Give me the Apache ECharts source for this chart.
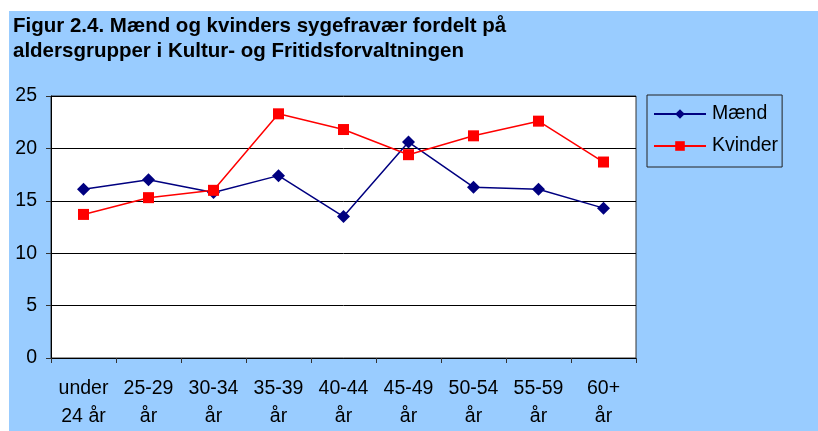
<!DOCTYPE html>
<html>
<head>
<meta charset="utf-8">
<script src="https://cdn.jsdelivr.net/npm/echarts@6/dist/echarts.min.js"></script>
<style>
  html, body { margin: 0; padding: 0; background: #fff; }
  #chart { width: 818px; height: 431px; }
</style>
</head>
<body>
<div id="chart"></div>
<script>
// age groups (two-line labels)
const categories = ['under\n24 år', '25-29\når', '30-34\når', '35-39\når', '40-44\når',
  '45-49\når', '50-54\når', '55-59\når', '60+\når']
const maend = [16.1, 17.0, 15.8, 17.4, 13.5, 20.6, 16.3, 16.1, 14.3]
const kvinder = [13.7, 15.3, 16.0, 23.3, 21.8, 19.4, 21.2, 22.6, 18.7]
const yTicks = [0, 5, 10, 15, 20, 25]

const font = 'Liberation Sans, Arial, sans-serif'
const chart = echarts.init(document.getElementById('chart'))

chart.setOption({
  animation: false,
  backgroundColor: '#fff',
  graphic: [
    {
      type: 'rect',
      z: -10,
      shape: { x: 9, y: 11, width: 809, height: 420 },
      style: { fill: '#99CCFF' }
    },
    {
      type: 'text',
      left: 13,
      top: 14,
      style: {
        text: 'Figur 2.4. Mænd og kvinders sygefravær fordelt på\naldersgrupper i Kultur- og Fritidsforvaltningen',
        font: 'bold 20.5px ' + font,
        lineHeight: 25,
        fill: '#000'
      }
    }
  ],
  grid: {
    left: 51,
    right: 182,
    top: 96,
    bottom: 73,
    show: true,
    backgroundColor: '#fff',
    borderColor: '#333',
    borderWidth: 1
  },
  legend: {
    orient: 'vertical',
    left: 647,
    top: 95,
    width: 132,
    padding: [9, 4, 11, 6],
    itemGap: 12,
    itemWidth: 52,
    itemHeight: 12,
    borderColor: '#222',
    borderWidth: 1,
    textStyle: { fontFamily: font, fontSize: 19.5, color: '#000', padding: [0, 0, 0, 1] },
    data: ['Mænd', 'Kvinder']
  },
  xAxis: {
    type: 'category',
    data: categories,
    boundaryGap: true,
    axisLine: { lineStyle: { color: '#000', width: 1 } },
    axisTick: { show: true, inside: false, length: 5, lineStyle: { color: '#333' } },
    axisLabel: {
      fontFamily: font,
      fontSize: 19.5,
      color: '#000',
      lineHeight: 28,
      margin: 17,
      interval: 0
    }
  },
  yAxis: {
    type: 'value',
    min: yTicks[0],
    max: yTicks[yTicks.length - 1],
    interval: 5,
    axisLine: { show: true, lineStyle: { color: '#000', width: 1 } },
    axisTick: { show: true, inside: false, length: 5, lineStyle: { color: '#333' } },
    axisLabel: { fontFamily: font, fontSize: 19.5, color: '#000', margin: 14 },
    splitLine: { lineStyle: { color: '#000', width: 1 } }
  },
  series: [
    {
      name: 'Mænd',
      type: 'line',
      data: maend,
      symbol: 'diamond',
      symbolSize: 13,
      itemStyle: { color: '#000080' },
      lineStyle: { color: '#000080', width: 1.5 }
    },
    {
      name: 'Kvinder',
      type: 'line',
      data: kvinder,
      symbol: 'rect',
      symbolSize: 11,
      itemStyle: { color: '#FF0000' },
      lineStyle: { color: '#FF0000', width: 1.5 }
    }
  ]
})
</script>
</body>
</html>
